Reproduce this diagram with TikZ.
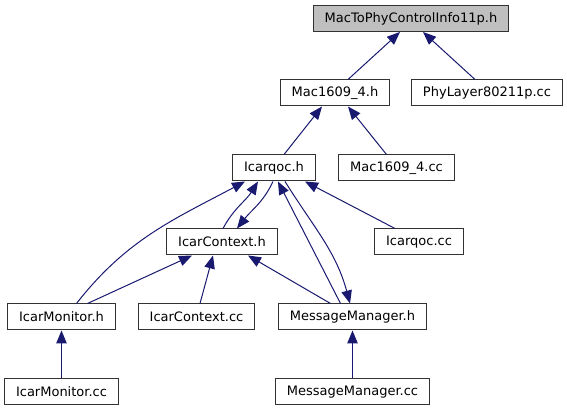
\documentclass[tikz,border=0pt]{standalone}
\usepackage{fontspec}
\setmainfont{DejaVu Sans}
\usepackage{tikz}
\usetikzlibrary{arrows.meta, positioning, calc}
\definecolor{myblue}{RGB}{25,25,112}
\definecolor{mygrey}{RGB}{191,191,191}
\definecolor{myborder}{RGB}{50,50,50}
\tikzset{
  filebox/.style={rectangle, draw=myborder, fill=white,
    inner xsep=11.5pt, inner ysep=0pt, minimum height=26pt,
    font=\fontsize{13}{15}\selectfont, line width=1pt},
  rootbox/.style={filebox, fill=mygrey},
  incarrow/.style={-{Triangle[length=13pt,width=10.5pt]}, line width=1pt, color=myblue}
}

\begin{document}
\begin{tikzpicture}[x=1pt, y=1pt]
  \useasboundingbox (0,0) rectangle (567,411);
  % top level
  \node[rootbox] (mactophy) at (411,392.5) {MacToPhyControlInfo11p.h};
  \node[filebox] (mach) at (335,318) {Mac1609\_4.h};
  \node[filebox] (phycc) at (487,318) {PhyLayer80211p.cc};
  \node[filebox] (icarqoch) at (274,243) {Icarqoc.h};
  \node[filebox] (maccc) at (396.5,243) {Mac1609\_4.cc};
  \node[filebox] (ctxh) at (222,169) {IcarContext.h};
  \node[filebox] (icarqoccc) at (419,169) {Icarqoc.cc};
  \node[filebox] (monh) at (61.5,94) {IcarMonitor.h};
  \node[filebox] (ctxcc) at (196.5,94) {IcarContext.cc};
  \node[filebox] (mmh) at (352.5,94) {MessageManager.h};
  \node[filebox] (moncc) at (61.5,19) {IcarMonitor.cc};
  \node[filebox] (mmcc) at (352.5,19) {MessageManager.cc};

  \draw[incarrow] ([xshift=13pt]mach.north) -- ([xshift=-11pt]mactophy.south);
  \draw[incarrow] ([xshift=-12pt]phycc.north) -- ([xshift=12pt]mactophy.south);
  \draw[incarrow] ([xshift=10pt]icarqoch.north) -- ([xshift=-13pt]mach.south);
  \draw[incarrow] ([xshift=-10pt]maccc.north) -- ([xshift=13pt]mach.south);
  % cycle between Icarqoc.h and IcarContext.h
  \draw[incarrow] ([xshift=1pt]ctxh.north) to[out=62, in=238] ([xshift=-16pt]icarqoch.south);
  \draw[incarrow] ([xshift=-1pt]icarqoch.south) to[out=245, in=52] ([xshift=15pt]ctxh.north);
  \draw[incarrow] ([xshift=15pt]monh.north) to[out=52, in=208] ([xshift=-29pt]icarqoch.south);
  \draw[incarrow] ([xshift=26pt]monh.north) -- ([xshift=-30pt]ctxh.south);
  \draw[incarrow] ([xshift=3.5pt]ctxcc.north) -- ([xshift=-9pt]ctxh.south);
  \draw[incarrow] ([xshift=-22pt]mmh.north) -- ([xshift=26pt]ctxh.south);
  \draw[incarrow] ([xshift=-12pt]mmh.north) -- ([xshift=4pt]icarqoch.south);
  \draw[incarrow] ([xshift=11pt]icarqoch.south) to[out=-58, in=105] ([xshift=-2.5pt]mmh.north);
  \draw[incarrow] ([xshift=-24pt]icarqoccc.north) -- ([xshift=31pt]icarqoch.south);
  \draw[incarrow] (moncc) -- (monh);
  \draw[incarrow] (mmcc) -- (mmh);
\end{tikzpicture}
\end{document}
